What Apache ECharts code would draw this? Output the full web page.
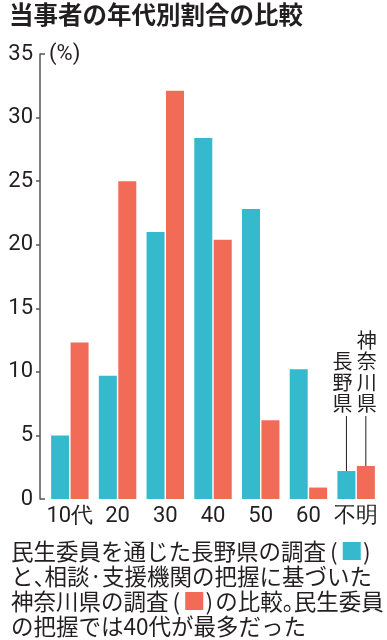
<!DOCTYPE html>
<html><head><meta charset="utf-8">
<script src="https://cdn.jsdelivr.net/npm/echarts@6/dist/echarts.min.js"></script>
<style>html,body{margin:0;padding:0;background:#fff}#c{width:387px;height:640px}</style>
</head><body><div id="c"></div>
<script>
const categories = ['10代','20','30','40','50','60','不明'];
const nagano = [5.0, 9.7, 21.0, 28.4, 22.8, 10.2, 2.2];
const kanagawa = [12.3, 25.0, 32.1, 20.4, 6.2, 0.9, 2.6];
const yMin = 0, yMax = 35, yInterval = 5;
const titleText = '当事者の年代別割合の比較';
const unitText = '(%)';
const naganoLabel = '長野県';
const kanagawaLabel = '神奈川県';
const captionLines = [
  '民生委員を通じた長野県の調査(B)',
  'と、相談·支援機関の把握に基づいた',
  '神奈川県の調査(R)の比較。民生委員',
  'の把握では40代が最多だった'
];

const BLUE = '#34BACC', RED = '#F26B56', INK = '#231F20', AXIS = '#555';
const GL = 46, GR = 7, GT = 54, GB = 141, YOFF = 6;
const NUMFONT = "Roboto, 'Liberation Sans', sans-serif";
const JPFONT = "'Noto Sans CJK JP', sans-serif";

const chart = echarts.init(document.getElementById('c'), null, {renderer: 'canvas'});
chart.setOption({
  animation: false,
  grid: {left: GL, right: GR, top: GT, bottom: GB},
  xAxis: {
    type: 'category', data: categories,
    axisLine: {show: false}, axisTick: {show: false},
    axisLabel: {color: INK, fontSize: 22, fontFamily: NUMFONT, margin: 6, interval: 0}
  },
  yAxis: {
    type: 'value', min: yMin, max: yMax, interval: yInterval, offset: YOFF,
    name: unitText, nameLocation: 'end', nameGap: 0,
    nameTextStyle: {color: INK, fontSize: 22, fontFamily: NUMFONT, align: 'left', verticalAlign: 'middle', padding: [0, 0, 0, 9]},
    axisLine: {show: true, lineStyle: {color: AXIS, width: 1.5}},
    axisTick: {show: true, length: 4, lineStyle: {color: AXIS, width: 1.5}, customValues: [5,10,15,20,25,30]},
    splitLine: {show: false},
    axisLabel: {color: INK, fontSize: 22, fontFamily: NUMFONT, margin: 7}
  },
  series: [
    {type: 'bar', name: naganoLabel, data: nagano, barWidth: 18, barGap: '8%', itemStyle: {color: BLUE}},
    {type: 'bar', name: kanagawaLabel, data: kanagawa, barWidth: 18, barGap: '8%', itemStyle: {color: RED}}
  ]
});

// annotations
const last = categories.length - 1;
const cx = chart.convertToPixel({xAxisIndex: 0}, last);
const half = 9.7;
const bx = cx - half, rx = cx + half;
const byTop = chart.convertToPixel({yAxisIndex: 0}, nagano[last]);
const ryTop = chart.convertToPixel({yAxisIndex: 0}, kanagawa[last]);
const axisX = GL - YOFF;
const y35 = chart.convertToPixel({yAxisIndex: 0}, yMax);
const y0 = chart.convertToPixel({yAxisIndex: 0}, yMin);
const textBottom = 414, lineStart = 416;
const vLH = 21;
function vert(s){ return s.split('').join('\n'); }

const capTop = 540, capLH = 25, capFS = 22.5;
const graphics = [
  {type: 'text', left: 9, top: 2, style: {text: titleText, fill: INK, fontSize: 24.5, fontWeight: 'bold', fontFamily: JPFONT}},
  {type: 'line', shape: {x1: axisX, y1: y35, x2: axisX + 5, y2: y35}, style: {stroke: AXIS, lineWidth: 1.5}},
  {type: 'line', shape: {x1: axisX, y1: y0, x2: axisX + 5, y2: y0}, style: {stroke: AXIS, lineWidth: 1.5}},
  {type: 'line', shape: {x1: bx, y1: lineStart, x2: bx, y2: byTop}, style: {stroke: INK, lineWidth: 1}},
  {type: 'line', shape: {x1: rx, y1: lineStart, x2: rx, y2: ryTop}, style: {stroke: INK, lineWidth: 1}},
  {type: 'text', x: bx - 4, y: textBottom, style: {text: vert(naganoLabel), fill: INK, fontSize: 20, fontFamily: JPFONT, lineHeight: vLH, align: 'center', verticalAlign: 'bottom'}},
  {type: 'text', x: rx + 1, y: textBottom, style: {text: vert(kanagawaLabel), fill: INK, fontSize: 20, fontFamily: JPFONT, lineHeight: vLH, align: 'center', verticalAlign: 'bottom'}}
];
const base = {fill: INK, fontSize: capFS, fontFamily: JPFONT, lineHeight: capLH};
const rich = {
  t: base,
  p: Object.assign({}, base, {width: 11}),
  o: Object.assign({}, base, {padding: [0, 3, 0, 4]}),
  c: Object.assign({}, base, {padding: [0, 2, 0, 0]}),
  b: Object.assign({}, base, {fill: BLUE}),
  r: Object.assign({}, base, {fill: RED})
};
function tokens(line){
  let out = '', buf = '';
  const flush = () => { if (buf) { out += '{t|' + buf + '}'; buf = ''; } };
  for (const ch of line) {
    if (ch === '、' || ch === '。') { flush(); out += '{p|' + ch + '}'; }
    else if (ch === '(') { flush(); out += '{o|(}'; }
    else if (ch === ')') { flush(); out += '{c|)}'; }
    else if (ch === 'B') { flush(); out += '{b|■}'; }
    else if (ch === 'R') { flush(); out += '{r|■}'; }
    else buf += ch;
  }
  flush();
  return out;
}
captionLines.forEach((line, i) => {
  graphics.push({type: 'text', left: 11, top: capTop + i * capLH, style: {text: tokens(line), rich: rich}});
});
chart.setOption({graphic: graphics});
</script>
</body></html>
